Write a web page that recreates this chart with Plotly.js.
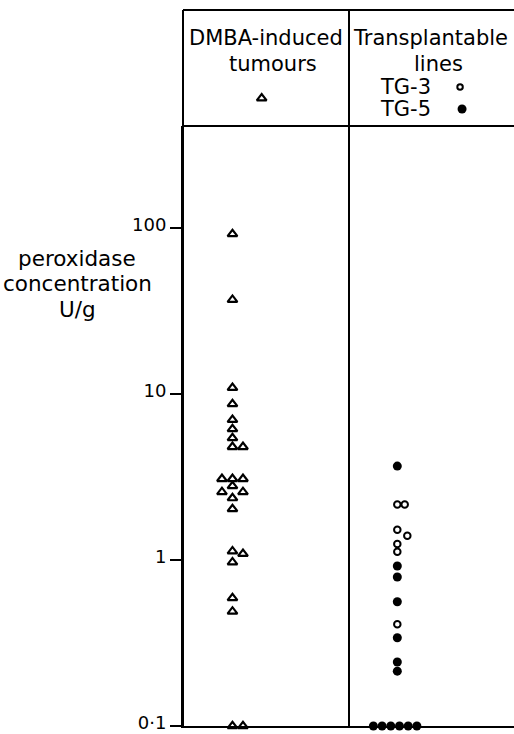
<!DOCTYPE html>
<html>
<head>
<meta charset="utf-8">
<script src="https://cdn.plot.ly/plotly-3.0.1.min.js"></script>
<style>html,body{margin:0;padding:0;background:#fff;overflow:hidden}</style>
</head>
<body>
<div id="chart" style="width:514px;height:734px"></div>
<script>
// ---- data (peroxidase concentration, U/g) ----
const dmbaValues = [92, 37, 10.9, 8.7, 7.0, 6.15, 5.43, 4.8, 4.8, 3.08, 3.08, 3.08, 2.79, 2.57, 2.57, 2.36, 2.03, 1.13, 1.09, 0.97, 0.59, 0.49, 0.1, 0.1];
const dmbaSlot   = [0, 0, 0, 0, 0, 0, 0, 0, 1, -1, 0, 1, 0, -1, 1, 0, 0, 0, 1, 0, 0, 0, 0, 1];
const tg3Values  = [2.16, 2.16, 1.52, 1.40, 1.25, 1.12, 0.41];
const tg3Slot    = [0, 0.85, 0, 1.15, 0, 0, 0];
const tg5Values  = [3.68, 0.92, 0.79, 0.56, 0.34, 0.243, 0.214, 0.1, 0.1, 0.1, 0.1, 0.1, 0.1];
const tg5Slot    = [0, 0, 0, 0, 0, 0, 0, -2.75, -1.75, -0.75, 0.25, 1.25, 2.25];
const tickVals   = [0.1, 1, 10, 100];
const tickText   = ['0·1', '1', '10', '100'];
const titleLines = ['peroxidase', 'concentration', 'U/g'];

// ---- layout constants ----
const FONT = 'DejaVu Sans, sans-serif';
const W = 514, H = 734;
const mL = 183, mR = 0, mT = 10, mB = 8;
const plotW = W - mL - mR, plotH = H - mT - mB;
const colPx = 166;                  // width of one column in px
const headerPx = 116;               // header band height
const mainTop = (plotH - headerPx) / plotH;
const dmbaCenter = 0.298, dmbaStep = 0.0633;
const tgCenter = 1.291, tgStep = 0.0524;

const triMarker = {symbol: 'triangle-up', size: 8.5, color: '#fff', line: {color: '#000', width: 2.2}};
const openMarker = {symbol: 'circle', size: 6.5, color: '#fff', line: {color: '#000', width: 2}};
const dotMarker = {symbol: 'circle', size: 9, color: '#000', line: {width: 0}};

const traces = [
  {
    x: dmbaSlot.map(s => dmbaCenter + s * dmbaStep), y: dmbaValues,
    type: 'scatter', mode: 'markers', cliponaxis: false, hoverinfo: 'skip', marker: triMarker
  },
  {
    x: tg3Slot.map(s => tgCenter + s * tgStep), y: tg3Values,
    type: 'scatter', mode: 'markers', cliponaxis: false, hoverinfo: 'skip', marker: openMarker
  },
  {
    x: tg5Slot.map(s => tgCenter + s * tgStep), y: tg5Values,
    type: 'scatter', mode: 'markers', cliponaxis: false, hoverinfo: 'skip', marker: dotMarker
  },
  // key symbols in the header band
  {
    x: [0.474], y: [0.239], xaxis: 'x', yaxis: 'y2',
    type: 'scatter', mode: 'markers', cliponaxis: false, hoverinfo: 'skip', marker: triMarker
  },
  {
    x: [1.669], y: [0.336], xaxis: 'x', yaxis: 'y2',
    type: 'scatter', mode: 'markers', cliponaxis: false, hoverinfo: 'skip',
    marker: {symbol: 'circle', size: 5.5, color: '#fff', line: {color: '#000', width: 2}}
  },
  {
    x: [1.681], y: [0.147], xaxis: 'x', yaxis: 'y2',
    type: 'scatter', mode: 'markers', cliponaxis: false, hoverinfo: 'skip', marker: dotMarker
  }
];

const ann = (text, x, y) => ({
  text: text, x: x, y: y, xref: 'x', yref: 'y2', showarrow: false,
  xanchor: 'center', yanchor: 'middle', font: {family: FONT, size: 21, color: '#000'}
});

const titleY = [258, 284, 310];
const titleAnns = titleLines.map((t, i) => ({
  text: t, xref: 'paper', yref: 'paper',
  x: (77 - mL) / plotW, y: (H - mB - titleY[i]) / plotH,
  showarrow: false, xanchor: 'center', yanchor: 'middle',
  font: {family: FONT, size: 21.5, color: '#000'}
}));

const layout = {
  width: W, height: H,
  margin: {l: mL, r: mR, t: mT, b: mB, pad: 0},
  paper_bgcolor: '#fff', plot_bgcolor: '#fff',
  showlegend: false,
  font: {family: FONT, color: '#000'},
  xaxis: {
    range: [0, plotW / colPx], showgrid: false, zeroline: false,
    showline: true, linecolor: '#000', linewidth: 2,
    ticks: '', showticklabels: false, fixedrange: true
  },
  yaxis: {
    type: 'log', domain: [0, mainTop], range: [-1, -1 + (plotH - headerPx) / colPx],
    tickmode: 'array', tickvals: tickVals, ticktext: tickText,
    ticks: 'outside', ticklen: 11, tickwidth: 2, tickcolor: '#000',
    ticklabeloverflow: 'allow', ticklabelshift: -3,
    showline: true, linecolor: '#000', linewidth: 2,
    showgrid: false, zeroline: false,
    tickfont: {family: FONT, size: 18, color: '#000'}
  },
  yaxis2: {domain: [mainTop, 1], range: [0, 1], visible: false, anchor: 'x'},
  shapes: [
    {type: 'line', xref: 'paper', yref: 'paper', x0: 0, x1: 1, y0: 1, y1: 1, line: {color: '#000', width: 2}},
    {type: 'line', xref: 'paper', yref: 'paper', x0: 0, x1: 1, y0: mainTop, y1: mainTop, line: {color: '#000', width: 2}},
    {type: 'line', xref: 'paper', yref: 'paper', x0: 0, x1: 0, y0: 0, y1: 1, line: {color: '#000', width: 2}},
    {type: 'line', xref: 'paper', yref: 'paper', x0: colPx / plotW, x1: colPx / plotW, y0: 0, y1: 1, line: {color: '#000', width: 2}}
  ],
  annotations: [
    ann('DMBA-induced', 0.5, 0.7586),
    ann('tumours', 0.542, 0.534),
    ann('Transplantable', 1.488, 0.7586),
    ann('lines', 1.539, 0.534),
    ann('TG-3', 1.34, 0.336),
    ann('TG-5', 1.34, 0.147)
  ].concat(titleAnns)
};

Plotly.newPlot('chart', traces, layout, {displayModeBar: false, staticPlot: true});
</script>
</body>
</html>
